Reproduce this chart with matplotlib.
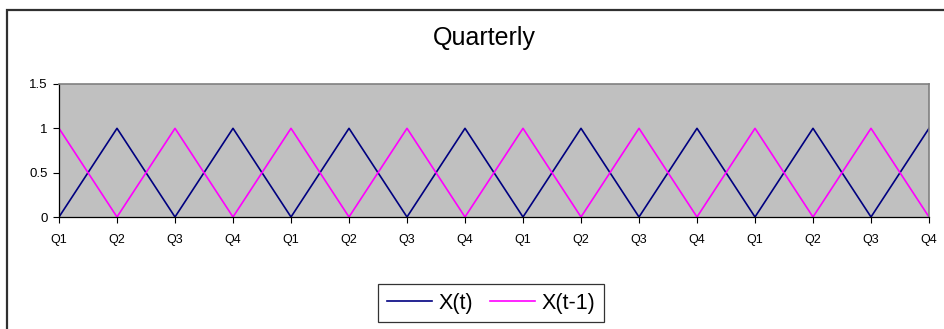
import matplotlib
matplotlib.use("Agg")
import matplotlib.pyplot as plt
from matplotlib.patches import Rectangle

plt.rcParams['font.family'] = ['Liberation Sans', 'DejaVu Sans']

quarters = ["Q1", "Q2", "Q3", "Q4"] * 4
x_t = [0, 1, 0, 1, 0, 1, 0, 1, 0, 1, 0, 1, 0, 1, 0, 1]
x_t_lag = [1, 0, 1, 0, 1, 0, 1, 0, 1, 0, 1, 0, 1, 0, 1, 0]
y_ticks = [0, 0.5, 1, 1.5]
y_labels = ["0", "0.5", "1", "1.5"]

W, H = 944, 329
fig = plt.figure(figsize=(W / 100, H / 100), dpi=100)
fig.patch.set_facecolor("white")

# outer chart frame (open on the right and bottom)
fig.add_artist(Rectangle((7 / W, -0.1), 1.2, (H - 10) / H + 0.1,
                         transform=fig.transFigure, fill=False,
                         edgecolor="#303030", linewidth=1.6))

ax = fig.add_axes([59 / W, (H - 217) / H, (929 - 59) / W, (217 - 84) / H])
ax.set_facecolor("#C0C0C0")

idx = list(range(len(quarters)))
l1, = ax.plot(idx, x_t, color="#000080", linewidth=1.2, label="X(t)")
l2, = ax.plot(idx, x_t_lag, color="#FF00FF", linewidth=1.2, label="X(t-1)")

ax.set_xlim(0, len(quarters) - 1)
ax.set_ylim(0, 1.5)
ax.set_xticks(idx)
ax.set_xticklabels(quarters, fontsize=9)
ax.set_yticks(y_ticks)
ax.set_yticklabels(y_labels, fontsize=9.5)
ax.tick_params(axis="both", direction="out", length=4, width=0.8, color="black")
ax.tick_params(axis="x", pad=8)
ax.tick_params(axis="y", pad=4)

for side in ("top", "right"):
    ax.spines[side].set_color("#808080")
    ax.spines[side].set_linewidth(1.2)
for side in ("left", "bottom"):
    ax.spines[side].set_color("black")
    ax.spines[side].set_linewidth(0.9)

fig.text(484 / W, 1 - 38 / H, "Quarterly", ha="center", va="center", fontsize=18)

leg = fig.legend(handles=[l1, l2], loc="center", bbox_to_anchor=(491 / W, 1 - 303 / H),
                 ncol=2, fontsize=15.5, frameon=True, fancybox=False, handlelength=2.1,
                 handletextpad=0.3, columnspacing=0.8, borderpad=0.4, borderaxespad=0)
leg.get_frame().set_edgecolor("black")
leg.get_frame().set_linewidth(0.9)

fig.savefig("out.png", dpi=100)
